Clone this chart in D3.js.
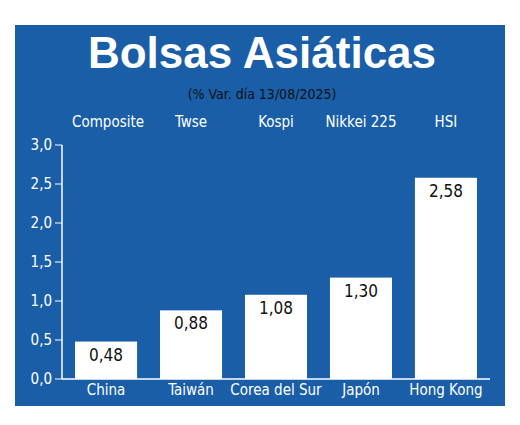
<!DOCTYPE html>
<html><head><meta charset="utf-8">
<script src="https://cdn.jsdelivr.net/npm/d3@7"></script>
<style>body{margin:0;background:#fff}</style></head>
<body><svg id="c" width="520" height="425"></svg>
<script>
const countries=["China","Taiwán","Corea del Sur","Japón","Hong Kong"];
const indices=["Composite","Twse","Kospi","Nikkei 225","HSI"];
const values=[0.48,0.88,1.08,1.30,2.58];
const yTicks=[0,0.5,1.0,1.5,2.0,2.5,3.0];
const svg=d3.select("#c");
const font="'Liberation Sans Narrow','DejaVu Sans Condensed',sans-serif";
svg.append("rect").attr("x",15).attr("y",25).attr("width",490).attr("height",381).attr("fill","#1a5ea8");
svg.append("text").attr("x",262).attr("y",68).attr("text-anchor","middle").attr("fill","#fff")
 .attr("font-family","'Liberation Sans Narrow',sans-serif").attr("font-weight","bold").attr("font-size",44).text("Bolsas Asiáticas");
svg.append("text").attr("x",262).attr("y",99).attr("text-anchor","middle").attr("fill","#111")
 .attr("font-family",font).attr("font-size",14).text("(% Var. día  13/08/2025)");
const x=d3.scaleBand().domain(countries).range([64,488]).paddingInner(0.27).paddingOuter(0.13);
const y=d3.scaleLinear().domain([0,3]).range([379,145]);
const g=svg.append("g");
g.append("line").attr("x1",62).attr("x2",62).attr("y1",y(3)).attr("y2",y(0)).attr("stroke","#fff").attr("stroke-width",1.5);
g.append("line").attr("x1",62).attr("x2",490).attr("y1",y(0)).attr("y2",y(0)).attr("stroke","#fff").attr("stroke-width",1.5);
yTicks.forEach(t=>{
 g.append("line").attr("x1",55).attr("x2",62).attr("y1",y(t)).attr("y2",y(t)).attr("stroke","#fff");
 g.append("text").attr("x",52).attr("y",y(t)+5).attr("text-anchor","end").attr("fill","#fff")
  .attr("font-family",font).attr("font-size",15).text(t.toFixed(1).replace(".",","));
});
countries.forEach((c,i)=>{
 const bx=x(c),bw=x.bandwidth(),cx=bx+bw/2;
 g.append("rect").attr("x",bx).attr("y",y(values[i])).attr("width",bw).attr("height",y(0)-y(values[i])).attr("fill","#fff");
 g.append("text").attr("x",cx).attr("y",y(values[i])+19).attr("text-anchor","middle").attr("fill","#111")
  .attr("font-family",font).attr("font-size",17).text(values[i].toFixed(2).replace(".",","));
 g.append("text").attr("x",cx).attr("y",395).attr("text-anchor","middle").attr("fill","#fff")
  .attr("font-family",font).attr("font-size",15).text(c);
 g.append("text").attr("x",cx+(i==0?2:0)).attr("y",127).attr("text-anchor","middle").attr("fill","#fff")
  .attr("font-family",font).attr("font-size",15).text(indices[i]);
});
</script></body></html>
